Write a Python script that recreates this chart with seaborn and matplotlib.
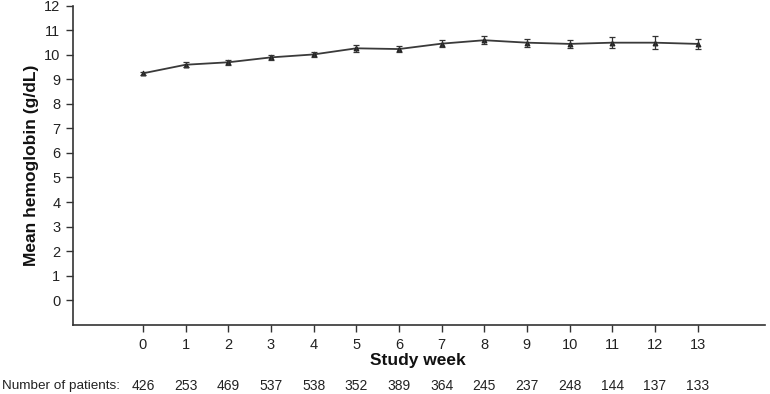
import matplotlib
matplotlib.use("Agg")
import matplotlib.pyplot as plt
import matplotlib.transforms as mtransforms
import seaborn as sns
import pandas as pd

weeks = [0, 1, 2, 3, 4, 5, 6, 7, 8, 9, 10, 11, 12, 13]
mean_hb = [9.25, 9.6, 9.7, 9.9, 10.02, 10.27, 10.24, 10.46, 10.6, 10.5, 10.45, 10.5, 10.5, 10.45]
sem_hb = [0.05, 0.11, 0.1, 0.1, 0.09, 0.13, 0.13, 0.13, 0.17, 0.17, 0.17, 0.22, 0.26, 0.21]
n_patients = [426, 253, 469, 537, 538, 352, 389, 364, 245, 237, 248, 144, 137, 133]
y_ticks = list(range(0, 13))

df = pd.DataFrame({"week": weeks, "hb": mean_hb, "sem": sem_hb})

sns.set_theme(style="ticks")
plt.rcParams["font.family"] = ["Liberation Sans", "DejaVu Sans"]

fig = plt.figure(figsize=(7.7, 3.94), dpi=100)
ax = fig.add_axes([0.0948, 0.175, 0.8987, 0.81])

line_color = "#3a3a3a"
sns.lineplot(data=df, x="week", y="hb", ax=ax, color=line_color, linewidth=1.3,
             marker="^", markersize=3.5, markeredgecolor="#222222",
             markerfacecolor="#222222")
ax.errorbar(df["week"], df["hb"], yerr=df["sem"], fmt="none", ecolor="#333333",
            elinewidth=0.9, capsize=2.5, capthick=0.9)

ax.set_xlim(-1.64, 14.58)
ax.set_ylim(-1.02, 12)
ax.set_yticks(y_ticks)
ax.set_xticks(weeks)
ax.tick_params(axis="both", labelsize=10.5, length=5, width=1, color="#333333",
               labelcolor="#222222", pad=4)
for s in ["top", "right"]:
    ax.spines[s].set_visible(False)
for s in ["left", "bottom"]:
    ax.spines[s].set_color("#333333")
    ax.spines[s].set_linewidth(1.2)

ax.set_xlabel("Study week", fontsize=12.5, fontweight="bold", color="#111111")
ax.set_ylabel("Mean hemoglobin (g/dL)", fontsize=12.5, fontweight="bold", labelpad=4, color="#111111")
ax.xaxis.set_label_coords((418 - 73) / (765 - 73), -0.088)

trans = mtransforms.blended_transform_factory(ax.transData, fig.transFigure)
for w, n in zip(weeks, n_patients):
    ax.text(w, 1 - 386 / 394, str(n), transform=trans, ha="center", va="center",
            fontsize=10, color="#222222")
fig.text(2 / 770, 1 - 386 / 394, "Number of patients:", ha="left", va="center",
         fontsize=9.7, color="#222222")

fig.savefig("out.png", dpi=100, facecolor="white")
